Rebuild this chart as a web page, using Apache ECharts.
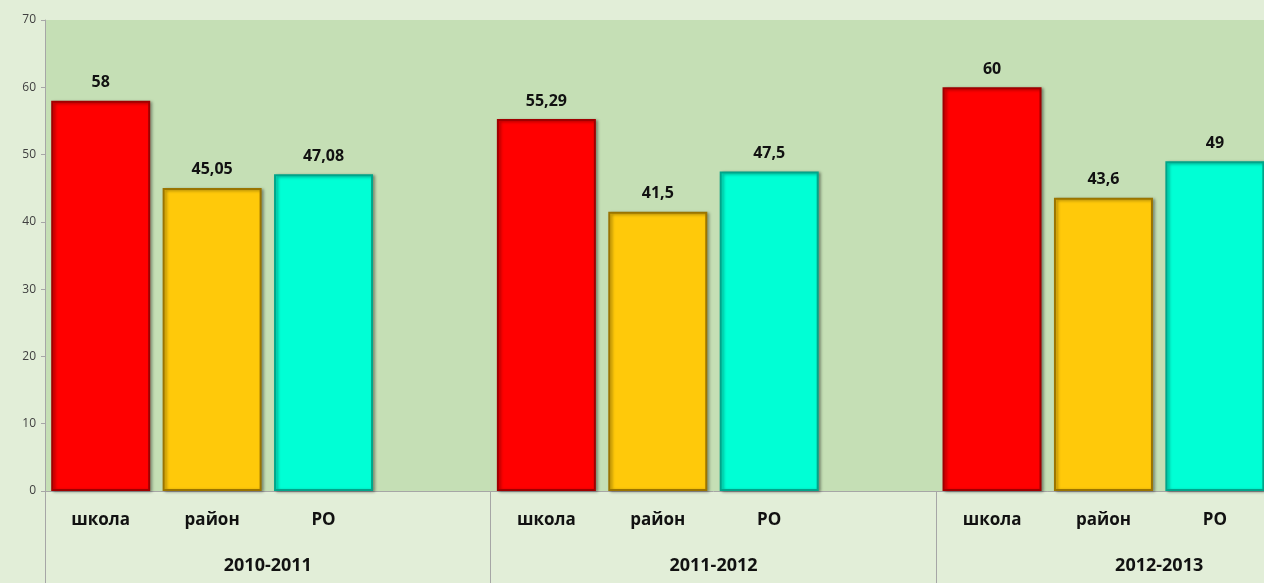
<!DOCTYPE html>
<html lang="ru">
<head>
    <meta charset="UTF-8">
    <title>Результаты</title>
    <script type="text/javascript" src="https://cdn.jsdelivr.net/npm/echarts@6/dist/echarts.min.js"></script>
    <style>
        html, body { margin: 0; padding: 0; background: #e2eed8; overflow: hidden; }
    </style>
</head>
<body>
<!-- шире окна: правый край диаграммы обрезан, как на картинке -->
<div id="main" style="width: 1382px;height:583px;"></div>
<script type="text/javascript">
    // подписи и значения
    var years = ['2010-2011', '2011-2012', '2012-2013'];
    var levels = ['школа', 'район', 'РО'];
    var shkola = [58, 55.29, 60];
    var rayon = [45.05, 41.5, 43.6];
    var ro = [47.08, 47.5, 49];
    var yTicks = [0, 10, 20, 30, 40, 50, 60, 70];

    var fills = ['#ff0000', '#ffc90a', '#00ffd5'];
    var edges = ['#a00000', '#9a7400', '#00a58a'];

    // 4 слота на год, последний пустой (как в Excel)
    var categories = [];
    var barData = [];
    var seriesVals = [shkola, rayon, ro];
    for (var i = 0; i < years.length; i++) {
        for (var j = 0; j < levels.length; j++) {
            categories.push(levels[j]);
            barData.push({
                value: seriesVals[j][i],
                itemStyle: { color: fills[j], borderColor: edges[j] }
            });
        }
        categories.push('');
        barData.push(null);
    }

    var option = {
        backgroundColor: '#e2eed8',
        animation: false,
        grid: {
            left: 45,
            top: 20,
            bottom: 92,
            right: 0,
            show: true,
            backgroundColor: '#c5dfb5',
            borderWidth: 0
        },
        xAxis: [
            {
                type: 'category',
                data: categories,
                axisLine: { lineStyle: { color: '#a6a6a6', width: 1 } },
                axisTick: { show: false },
                axisLabel: {
                    interval: 0,
                    margin: 21,
                    color: '#111',
                    fontFamily: 'Open Sans',
                    fontWeight: 'bold',
                    fontSize: 17
                }
            },
            {
                type: 'category',
                position: 'bottom',
                data: years,
                axisLine: { show: false },
                axisTick: {
                    show: true,
                    interval: 0,
                    length: 95,
                    lineStyle: { color: '#a6a6a6', width: 1 }
                },
                axisLabel: {
                    interval: 0,
                    margin: 66,
                    color: '#111',
                    fontFamily: 'Open Sans',
                    fontWeight: 'bold',
                    fontSize: 18
                }
            }
        ],
        yAxis: {
            type: 'value',
            min: yTicks[0],
            max: yTicks[yTicks.length - 1],
            interval: 10,
            splitLine: { show: false },
            axisLine: { show: true, lineStyle: { color: '#a6a6a6' } },
            axisTick: { show: true, length: 4, lineStyle: { color: '#a6a6a6' } },
            axisLabel: {
                margin: 9,
                color: '#404040',
                fontFamily: 'Open Sans',
                fontSize: 12
            }
        },
        series: [
            {
                type: 'bar',
                xAxisIndex: 0,
                data: barData,
                barWidth: 99,
                itemStyle: {
                    borderWidth: 2,
                    shadowColor: 'rgba(0,0,0,0.35)',
                    shadowBlur: 3,
                    shadowOffsetX: 2,
                    shadowOffsetY: 1
                },
                label: {
                    show: true,
                    position: 'top',
                    distance: 10,
                    color: '#111',
                    fontFamily: 'Open Sans',
                    fontWeight: 'bold',
                    fontSize: 16,
                    formatter: function (p) {
                        return String(p.value).replace('.', ',');
                    }
                }
            }
        ]
    };

    var myChart = echarts.init(document.getElementById('main'));
    myChart.setOption(option);
</script>
</body>
</html>
